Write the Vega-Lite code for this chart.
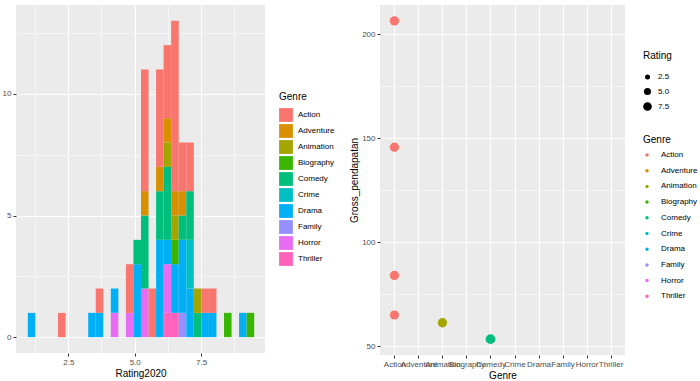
{
  "$schema": "https://vega.github.io/schema/vega-lite/v6.json",
  "padding": {"left": 2, "top": 5, "right": 0, "bottom": 0},
  "background": "#FFFFFF",
  "spacing": 115,
  "bounds": "flush",
  "datasets": {
    "hist": [
      {"lo": 0.958, "hi": 1.242, "Genre": "Drama", "n": 1},
      {"lo": 2.094, "hi": 2.378, "Genre": "Action", "n": 1},
      {"lo": 3.23, "hi": 3.514, "Genre": "Drama", "n": 1},
      {"lo": 3.514, "hi": 3.798, "Genre": "Drama", "n": 1},
      {"lo": 3.514, "hi": 3.798, "Genre": "Action", "n": 1},
      {"lo": 4.082, "hi": 4.366, "Genre": "Horror", "n": 1},
      {"lo": 4.082, "hi": 4.366, "Genre": "Drama", "n": 1},
      {"lo": 4.65, "hi": 4.934, "Genre": "Horror", "n": 1},
      {"lo": 4.65, "hi": 4.934, "Genre": "Action", "n": 2},
      {"lo": 4.934, "hi": 5.218, "Genre": "Drama", "n": 3},
      {"lo": 4.934, "hi": 5.218, "Genre": "Comedy", "n": 1},
      {"lo": 5.218, "hi": 5.502, "Genre": "Horror", "n": 2},
      {"lo": 5.218, "hi": 5.502, "Genre": "Comedy", "n": 3},
      {"lo": 5.218, "hi": 5.502, "Genre": "Adventure", "n": 1},
      {"lo": 5.218, "hi": 5.502, "Genre": "Action", "n": 5},
      {"lo": 5.502, "hi": 5.786, "Genre": "Action", "n": 2},
      {"lo": 5.786, "hi": 6.07, "Genre": "Drama", "n": 4},
      {"lo": 5.786, "hi": 6.07, "Genre": "Comedy", "n": 2},
      {"lo": 5.786, "hi": 6.07, "Genre": "Adventure", "n": 1},
      {"lo": 5.786, "hi": 6.07, "Genre": "Action", "n": 4},
      {"lo": 6.07, "hi": 6.354, "Genre": "Thriller", "n": 1},
      {"lo": 6.07, "hi": 6.354, "Genre": "Horror", "n": 2},
      {"lo": 6.07, "hi": 6.354, "Genre": "Drama", "n": 1},
      {"lo": 6.07, "hi": 6.354, "Genre": "Comedy", "n": 3},
      {"lo": 6.07, "hi": 6.354, "Genre": "Animation", "n": 1},
      {"lo": 6.07, "hi": 6.354, "Genre": "Adventure", "n": 1},
      {"lo": 6.07, "hi": 6.354, "Genre": "Action", "n": 3},
      {"lo": 6.354, "hi": 6.638, "Genre": "Thriller", "n": 1},
      {"lo": 6.354, "hi": 6.638, "Genre": "Drama", "n": 2},
      {"lo": 6.354, "hi": 6.638, "Genre": "Biography", "n": 1},
      {"lo": 6.354, "hi": 6.638, "Genre": "Animation", "n": 1},
      {"lo": 6.354, "hi": 6.638, "Genre": "Adventure", "n": 1},
      {"lo": 6.354, "hi": 6.638, "Genre": "Action", "n": 7},
      {"lo": 6.638, "hi": 6.922, "Genre": "Family", "n": 1},
      {"lo": 6.638, "hi": 6.922, "Genre": "Drama", "n": 3},
      {"lo": 6.638, "hi": 6.922, "Genre": "Comedy", "n": 1},
      {"lo": 6.638, "hi": 6.922, "Genre": "Adventure", "n": 1},
      {"lo": 6.638, "hi": 6.922, "Genre": "Action", "n": 2},
      {"lo": 6.922, "hi": 7.206, "Genre": "Drama", "n": 2},
      {"lo": 6.922, "hi": 7.206, "Genre": "Crime", "n": 2},
      {"lo": 6.922, "hi": 7.206, "Genre": "Comedy", "n": 2},
      {"lo": 6.922, "hi": 7.206, "Genre": "Action", "n": 2},
      {"lo": 7.206, "hi": 7.49, "Genre": "Comedy", "n": 1},
      {"lo": 7.206, "hi": 7.49, "Genre": "Animation", "n": 1},
      {"lo": 7.49, "hi": 7.774, "Genre": "Drama", "n": 1},
      {"lo": 7.49, "hi": 7.774, "Genre": "Action", "n": 1},
      {"lo": 7.774, "hi": 8.058, "Genre": "Drama", "n": 1},
      {"lo": 7.774, "hi": 8.058, "Genre": "Action", "n": 1},
      {"lo": 8.342, "hi": 8.626, "Genre": "Biography", "n": 1},
      {"lo": 8.91, "hi": 9.194, "Genre": "Drama", "n": 1},
      {"lo": 9.194, "hi": 9.478, "Genre": "Biography", "n": 1}
    ],
    "gross": [
      {"Genre": "Action", "Gross_pendapatan": 206.4, "Rating": 8.8},
      {"Genre": "Action", "Gross_pendapatan": 145.7, "Rating": 8.6},
      {"Genre": "Action", "Gross_pendapatan": 84.1, "Rating": 8.5},
      {"Genre": "Action", "Gross_pendapatan": 65.1, "Rating": 8.4},
      {"Genre": "Animation", "Gross_pendapatan": 61.4, "Rating": 8.7},
      {"Genre": "Comedy", "Gross_pendapatan": 53.5, "Rating": 9.3}
    ]
  },
  "hconcat": [
    {
      "width": 249,
      "height": 348,
      "data": {"name": "hist"},
      "mark": {"type": "bar", "binSpacing": 0},
      "encoding": {
        "x": {
          "field": "lo", "type": "quantitative", "bin": "binned",
          "scale": {"domain": [0.532, 9.904], "nice": false, "zero": false},
          "axis": {
            "title": "Rating2020",
            "values": [1.25, 2.5, 3.75, 5, 6.25, 7.5, 8.75],
            "labelExpr": "datum.value == 2.5 ? '2.5' : datum.value == 5 ? '5.0' : datum.value == 7.5 ? '7.5' : ''",
            "gridWidth": {"condition": {"test": "datum.value % 2.5 === 0", "value": 1.1}, "value": 0.5},
            "tickOpacity": {"condition": {"test": "datum.value % 2.5 === 0", "value": 1}, "value": 0}
          }
        },
        "x2": {"field": "hi"},
        "y": {
          "field": "n", "type": "quantitative", "stack": "zero",
          "scale": {"domain": [-0.65, 13.65], "nice": false, "zero": false},
          "axis": {
            "title": null,
            "values": [0, 2.5, 5, 7.5, 10, 12.5],
            "labelExpr": "datum.value % 5 === 0 ? format(datum.value, 'd') : ''",
            "gridWidth": {"condition": {"test": "datum.value % 5 === 0", "value": 1.1}, "value": 0.5},
            "tickOpacity": {"condition": {"test": "datum.value % 5 === 0", "value": 1}, "value": 0}
          }
        },
        "color": {
          "field": "Genre", "type": "nominal",
          "scale": {
            "domain": ["Action", "Adventure", "Animation", "Biography", "Comedy", "Crime", "Drama", "Family", "Horror", "Thriller"],
            "range": ["#F8766D", "#D89000", "#A3A500", "#39B600", "#00BF7D", "#00BFC4", "#00B0F6", "#9590FF", "#E76BF3", "#FF62BC"]
          },
          "legend": {
            "orient": "none", "legendX": 263, "legendY": 87,
            "symbolType": "square", "symbolSize": 190, "symbolStrokeWidth": 0,
            "rowPadding": 2, "labelOffset": 5
          }
        },
        "order": {"field": "Genre", "sort": "descending"}
      }
    },
    {
      "width": 245,
      "height": 350,
      "data": {"name": "gross"},
      "mark": {"type": "point", "filled": true, "opacity": 1},
      "encoding": {
        "x": {
          "field": "Genre", "type": "nominal",
          "scale": {"type": "point", "padding": 0.6,
            "domain": ["Action", "Adventure", "Animation", "Biography", "Comedy", "Crime", "Drama", "Family", "Horror", "Thriller"]},
          "axis": {"title": "Genre", "labelAngle": 0, "labelOverlap": false, "labelBound": false, "gridWidth": 1.1, "ticks": true}
        },
        "y": {
          "field": "Gross_pendapatan", "type": "quantitative",
          "scale": {"domain": [45.9, 214], "nice": false, "zero": false},
          "axis": {
            "title": "Gross_pendapatan",
            "values": [50, 75, 100, 125, 150, 175, 200],
            "labelExpr": "datum.value % 50 === 0 ? format(datum.value, 'd') : ''",
            "gridWidth": {"condition": {"test": "datum.value % 50 === 0", "value": 1.1}, "value": 0.5},
            "tickOpacity": {"condition": {"test": "datum.value % 50 === 0", "value": 1}, "value": 0}
          }
        },
        "color": {
          "field": "Genre", "type": "nominal",
          "scale": {
            "domain": ["Action", "Adventure", "Animation", "Biography", "Comedy", "Crime", "Drama", "Family", "Horror", "Thriller"],
            "range": ["#F8766D", "#D89000", "#A3A500", "#39B600", "#00BF7D", "#00BFC4", "#00B0F6", "#9590FF", "#E76BF3", "#FF62BC"]
          },
          "legend": {
            "orient": "none", "legendX": 263, "legendY": 130,
            "symbolType": "circle", "symbolSize": 12, "rowPadding": 7.7, "labelOffset": 10
          }
        },
        "size": {
          "field": "Rating", "type": "quantitative",
          "scale": {"domain": [0, 10], "range": [0, 100], "zero": true},
          "legend": {
            "orient": "none", "legendX": 263, "legendY": 46,
            "values": [2.5, 5, 7.5], "format": ".1f",
            "symbolFillColor": "#000000", "symbolStrokeColor": "#000000", "symbolStrokeWidth": 0, "symbolOpacity": 1,
            "rowPadding": 6.5, "labelOffset": 6, "titlePadding": 12
          }
        }
      }
    }
  ],
  "resolve": {
    "scale": {"color": "independent", "size": "independent"},
    "legend": {"color": "independent", "size": "independent"}
  },
  "config": {
    "font": "Liberation Sans",
    "view": {"fill": "#EBEBEB", "stroke": null},
    "axis": {
      "domain": false, "grid": true, "gridColor": "#FFFFFF",
      "tickColor": "#333333", "tickSize": 3, "tickWidth": 1,
      "labelColor": "#4D4D4D", "labelFontSize": 8, "labelPadding": 2,
      "titleFontSize": 10, "titleFontWeight": "normal", "titleColor": "#000000", "titlePadding": 2
    },
    "legend": {
      "titleFontWeight": "normal", "titleFontSize": 10, "titleColor": "#000000", "titlePadding": 6,
      "labelFontSize": 8, "labelColor": "#000000", "padding": 0
    }
  }
}
